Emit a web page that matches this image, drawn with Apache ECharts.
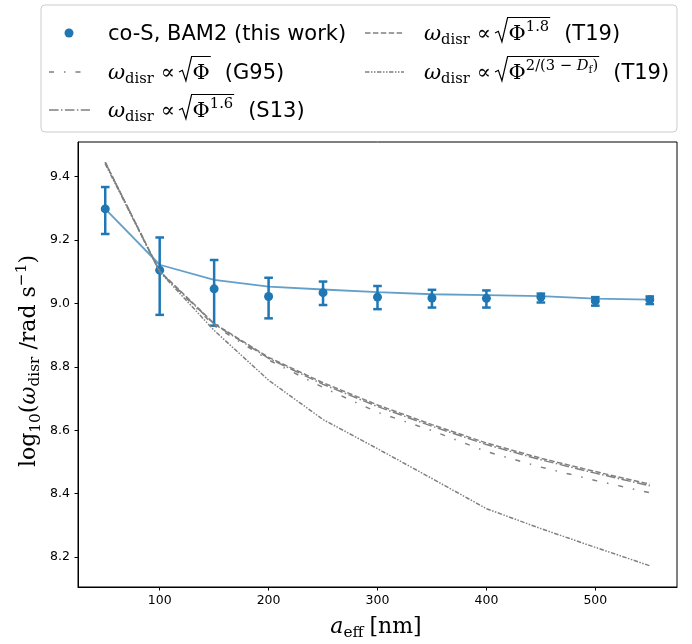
<!DOCTYPE html>
<html><head><meta charset="utf-8">
<script src="https://cdn.jsdelivr.net/npm/echarts@6/dist/echarts.min.js"></script>
<style>html,body{margin:0;padding:0;background:#fff}#c{width:692px;height:644px}</style>
</head><body><div id="c"></div>
<script>
// ---- data ----
const sizes     = [50, 100, 150, 200, 250, 300, 350, 400, 450, 500, 550];
const measured  = [9.298, 9.105, 9.046, 9.022, 9.034, 9.020, 9.017, 9.016, 9.020, 9.008, 9.012];
const errLow    = [9.219, 8.964, 8.930, 8.953, 8.995, 8.982, 8.987, 8.987, 9.003, 8.993, 8.998];
const errHigh   = [9.367, 9.208, 9.137, 9.081, 9.069, 9.055, 9.043, 9.041, 9.031, 9.020, 9.022];
const fitLine   = [9.298, 9.122, 9.074, 9.053, 9.044, 9.036, 9.029, 9.026, 9.023, 9.015, 9.012];
const modelG95  = [9.445, 9.100, 8.930, 8.822, 8.735, 8.657, 8.599, 8.533, 8.484, 8.442, 8.403];
const modelS13  = [9.445, 9.100, 8.935, 8.827, 8.745, 8.675, 8.613, 8.555, 8.507, 8.465, 8.425];
const modelT19  = [9.445, 9.102, 8.937, 8.830, 8.750, 8.680, 8.618, 8.560, 8.512, 8.470, 8.430];
const modelT19D = [9.440, 9.100, 8.915, 8.758, 8.634, 8.542, 8.448, 8.353, 8.290, 8.231, 8.173];
const xTicks = [100, 200, 300, 400, 500];
const yTicks = [8.2, 8.4, 8.6, 8.8, 9.0, 9.2, 9.4];

const BLUE = '#1f77b4', GRAY = '#808080';
const DASH_T19 = [5.5, 2.4], DASH_S13 = [9.6, 2.4, 1.5, 2.4],
      DASH_G95 = [5, 10, 1.5, 10], DASH_T19D = [4.5, 1.5, 1.5, 1.5, 1.5, 1.5];
const pairs = arr => sizes.map((x, i) => [x, arr[i]]);

// ---- math text layout helper ----
const SERIF = "'DejaVu Serif', serif", SANS = "'DejaVu Sans', sans-serif";
const cv = document.createElement('canvas').getContext('2d');
function fnt(s) { return (s.italic ? 'italic ' : '') + s.size + 'px ' + (s.fam || SERIF); }
function layout(segs, x0, base, els) {
  let x = x0;
  for (const s of segs) {
    if (s.gap) { x += s.gap; continue; }
    if (s.rad) {
      const sz = s.size, top = base - s.top;
      const xs = x;
      const inner = layout(s.body, x + 0.6 * sz + 1, base, els);
      els.push({ type: 'polyline', shape: { points: [
        [xs, base - 0.36 * sz], [xs + 0.16 * sz, base - 0.44 * sz],
        [xs + 0.33 * sz, base + 0.06 * sz], [xs + 0.6 * sz, top], [inner + 1, top]] },
        style: { stroke: '#000', lineWidth: 1.2, fill: null } });
      x = inner + 1;
      continue;
    }
    cv.font = fnt(s);
    const w = cv.measureText(s.t).width;
    els.push({ type: 'text', x: x, y: base + (s.dy || 0) - 0.3 * s.size,
      style: { text: s.t, font: fnt(s), fill: '#000', align: 'left', verticalAlign: 'middle' } });
    x += w;
  }
  return x;
}

const LF = 21, LS = 14.7;
const prefix = [{ t: 'ω', italic: true, size: LF }, { t: 'disr', size: LS, dy: 4 }, { gap: 7 },
  { t: '∝', size: LF }, { gap: 4 }];
function entry(radBody, tag) {
  return prefix.concat([{ rad: true, size: LF, top: 23, body: radBody }, { gap: 14 },
    { t: tag, size: LF, fam: SANS }]);
}
const legendEls = [];
legendEls.push({ type: 'rect', shape: { x: 41, y: 5, width: 636, height: 127, r: 4 },
  style: { fill: 'rgba(255,255,255,0.8)', stroke: '#cccccc', lineWidth: 1 } });
// row 1 col 1
legendEls.push({ type: 'circle', shape: { cx: 69, cy: 33, r: 4.5 }, style: { fill: BLUE } });
layout([{ t: 'co-S, BAM2 (this work)', size: LF, fam: SANS }], 108, 40.5, legendEls);
// row 1 col 2
legendEls.push({ type: 'line', shape: { x1: 365, y1: 33, x2: 404, y2: 33 }, style: { stroke: GRAY, lineWidth: 1.5, lineDash: DASH_T19 } });
layout(entry([{ t: 'Φ', size: LF }, { t: '1.8', size: LS, dy: -9 }], '(T19)'), 424, 40.5, legendEls);
// row 2 col 1
legendEls.push({ type: 'line', shape: { x1: 49, y1: 72, x2: 84, y2: 72 }, style: { stroke: GRAY, lineWidth: 1.5, lineDash: DASH_G95 } });
layout(entry([{ t: 'Φ', size: LF }], '(G95)'), 108, 79.5, legendEls);
// row 2 col 2
legendEls.push({ type: 'line', shape: { x1: 365, y1: 72, x2: 404, y2: 72 }, style: { stroke: GRAY, lineWidth: 1.5, lineDash: DASH_T19D } });
layout(entry([{ t: 'Φ', size: LF }, { t: '2/(3 − ', size: LS, dy: -9 }, { t: 'D', italic: true, size: LS, dy: -9 },
  { t: 'f', size: 10.5, dy: -6 }, { t: ')', size: LS, dy: -9 }], '(T19)'), 424, 79.5, legendEls);
// row 3 col 1
legendEls.push({ type: 'line', shape: { x1: 49, y1: 110, x2: 90, y2: 110 }, style: { stroke: GRAY, lineWidth: 1.5, lineDash: DASH_S13 } });
layout(entry([{ t: 'Φ', size: LF }, { t: '1.6', size: LS, dy: -9 }], '(S13)'), 108, 117.5, legendEls);

// axis titles
const AF = 22, AS = 15.4;
const ySegs = [{ t: 'log', size: AF }, { t: '10', size: AS, dy: 5 }, { t: '(', size: AF },
  { t: 'ω', italic: true, size: AF }, { t: 'disr', size: AS, dy: 4 }, { t: ' /rad s', size: AF },
  { t: '−1', size: AS, dy: -9 }, { t: ')', size: AF }];
const yLabEls = [];
const yW = layout(ySegs, 0, 0, []);
layout(ySegs, -yW / 2, 0, yLabEls);
const xSegs = [{ t: 'a', italic: true, size: AF }, { t: 'eff', size: AS, dy: 4 }, { gap: 6 }, { t: '[nm]', size: AF }];
const xW = layout(xSegs, 0, 0, []);
const xLabEls = [];
layout(xSegs, 376 - xW / 2, 634, xLabEls);

const chart = echarts.init(document.getElementById('c'), null, { renderer: 'canvas' });
const axisCommon = {
  type: 'value',
  axisLine: { show: true, lineStyle: { color: '#000', width: 1 } },
  axisTick: { show: true, inside: false, length: 3.5, lineStyle: { color: '#000', width: 1 } },
  splitLine: { show: false },
};
chart.setOption({
  animation: false,
  grid: { left: 78, right: 15, top: 142, bottom: 57, show: true, borderColor: '#000', borderWidth: 1, backgroundColor: 'transparent' },
  xAxis: Object.assign({}, axisCommon, {
    min: 25, max: 575,
    axisTick: Object.assign({}, axisCommon.axisTick, { customValues: xTicks }),
    axisLabel: { customValues: xTicks, fontSize: 12.5, fontFamily: SANS, color: '#000', margin: 7 },
  }),
  yAxis: Object.assign({}, axisCommon, {
    min: 8.106, max: 9.509,
    axisTick: Object.assign({}, axisCommon.axisTick, { customValues: yTicks }),
    axisLabel: { customValues: yTicks, fontSize: 12.5, fontFamily: SANS, color: '#000', margin: 8,
      formatter: v => v.toFixed(1) },
  }),
  series: [
    { type: 'custom', name: 'err', z: 2, data: sizes.map((x, i) => [x, errLow[i], errHigh[i]]),
      encode: { x: 0, y: [1, 2] },
      renderItem: (params, api) => {
        const x = api.value(0);
        const lo = api.coord([x, api.value(1)]);
        const hi = api.coord([x, api.value(2)]);
        const cw = 4.3, st = { stroke: BLUE, lineWidth: 2.5 };
        return { type: 'group', children: [
          { type: 'line', shape: { x1: lo[0], y1: lo[1], x2: hi[0], y2: hi[1] }, style: st },
          { type: 'line', shape: { x1: lo[0] - cw, y1: lo[1], x2: lo[0] + cw, y2: lo[1] }, style: st },
          { type: 'line', shape: { x1: hi[0] - cw, y1: hi[1], x2: hi[0] + cw, y2: hi[1] }, style: st },
        ] };
      } },
    { type: 'line', name: 'fit', z: 1, data: pairs(fitLine), showSymbol: false, symbol: 'none',
      lineStyle: { color: BLUE, width: 1.8, opacity: 0.7 } },
    { type: 'scatter', name: 'co-S, BAM2 (this work)', z: 3, data: pairs(measured), symbolSize: 9,
      itemStyle: { color: BLUE, opacity: 1 } },
    { type: 'line', name: 'G95', z: 4, data: pairs(modelG95), symbol: 'none', lineStyle: { color: GRAY, width: 1.5, type: DASH_G95 } },
    { type: 'line', name: 'S13', z: 4, data: pairs(modelS13), symbol: 'none', lineStyle: { color: GRAY, width: 1.5, type: DASH_S13 } },
    { type: 'line', name: 'T19', z: 4, data: pairs(modelT19), symbol: 'none', lineStyle: { color: GRAY, width: 1.5, type: DASH_T19 } },
    { type: 'line', name: 'T19D', z: 4, data: pairs(modelT19D), symbol: 'none', lineStyle: { color: GRAY, width: 1.5, type: DASH_T19D } },
  ],
  graphic: [
    { type: 'group', children: legendEls },
    { type: 'group', x: 36, y: 361, rotation: Math.PI / 2, children: yLabEls },
    { type: 'group', children: xLabEls },
  ],
});
</script></body></html>
